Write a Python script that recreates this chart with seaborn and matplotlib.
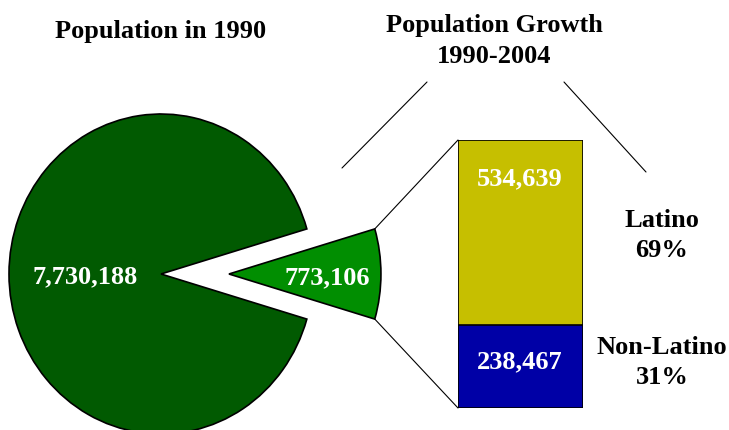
import matplotlib
matplotlib.use("Agg")
import matplotlib.pyplot as plt
import seaborn as sns
import numpy as np

# data
pie_labels = ["Population in 1990", "Population Growth 1990-2004"]
pie_values = [7730188, 773106]
growth_groups = ["Latino", "Non-Latino"]
growth_values = [534639, 238467]

pie_colors = ["#015a01", "#018e01"]
bar_colors = ["#c6bf00", "#0000a6"]

sns.set_theme(style="white")
plt.rcParams['font.family'] = ['Liberation Serif', 'DejaVu Serif']
plt.rcParams['font.weight'] = 'bold'

W, H = 729, 431
fig = plt.figure(figsize=(W / 100, H / 100), dpi=100)

# pie axes, units of the pie radius (slightly taller than wide, like the original)
rx, ry = 152, 160
ax_pie = fig.add_axes([0, 0, 1, 1])
total = sum(pie_values)
half = 180 * pie_values[1] / total
wedges, _ = ax_pie.pie(pie_values, colors=pie_colors, startangle=half, radius=1,
                       explode=[0, 0.447], center=(161 / rx, (H - 275) / ry),
                       wedgeprops=dict(edgecolor='black', linewidth=1.2))
ax_pie.set_xlim(0, W / rx)
ax_pie.set_ylim(0, H / ry)
ax_pie.set_aspect('auto')
ax_pie.axis('off')

# stacked bar for the growth split
bar_left, bar_right, bar_top, bar_bottom = 458, 583, 141, 409
ax_bar = fig.add_axes([bar_left / W, (H - bar_bottom) / H,
                       (bar_right - bar_left) / W, (bar_bottom - bar_top) / H])
growth_total = sum(growth_values)
sns.barplot(x=[""], y=[growth_total], color=bar_colors[0], width=1, saturation=1,
            edgecolor='black', linewidth=1.2, ax=ax_bar)
sns.barplot(x=[""], y=[growth_values[1]], color=bar_colors[1], width=1, saturation=1,
            edgecolor='black', linewidth=1.2, ax=ax_bar)
ax_bar.set_xlim(-0.5, 0.5)
ax_bar.set_ylim(0, growth_total)
ax_bar.axis('off')

# overlay in pixel coordinates for lines and text
ax = fig.add_axes([0, 0, 1, 1], zorder=5)
ax.set_xlim(0, W)
ax.set_ylim(H, 0)
ax.axis('off')
ax.patch.set_alpha(0)

def to_px(axes, pt):
    return ax.transData.inverted().transform(axes.transData.transform(pt))

# connectors from the exploded wedge to the bar
w = wedges[1]
cx, cy = w.center
corners = []
for ang in (w.theta2, w.theta1):
    corners.append(to_px(ax_pie, (cx + w.r * np.cos(np.radians(ang)),
                                  cy + w.r * np.sin(np.radians(ang)))))
bar_tl = to_px(ax_bar, (-0.5, growth_total))
bar_bl = to_px(ax_bar, (-0.5, 0))
for a, b in [(corners[0], bar_tl), (corners[1], bar_bl)]:
    ax.plot([a[0], b[0]], [a[1], b[1]], color='black', lw=0.8)

# bracket lines under the growth title
ax.plot([427, 342], [83, 169], color='black', lw=0.8)
ax.plot([564, 646], [83, 173], color='black', lw=0.8)

fs = 19
def lines(x, y0, texts, color='black', step=30):
    for i, t in enumerate(texts):
        ax.text(x, y0 + i * step, t, ha='center', va='baseline', fontsize=fs,
                fontweight='bold', color=color)

lines(161, 38, [pie_labels[0]])
lines(494, 32, ["Population Growth", "1990-2004"], step=31)
lines(85, 283, [f"{pie_values[0]:,}"], color='white')
lines(327, 284, [f"{pie_values[1]:,}"], color='white')
lines(520, 185, [f"{growth_values[0]:,}"], color='white')
lines(520, 368, [f"{growth_values[1]:,}"], color='white')
pcts = [round(100 * v / growth_total) for v in growth_values]
lines(662, 227, [growth_groups[0], f"{pcts[0]}%"])
lines(662, 354, [growth_groups[1], f"{pcts[1]}%"])

fig.savefig("out.png", dpi=100)
